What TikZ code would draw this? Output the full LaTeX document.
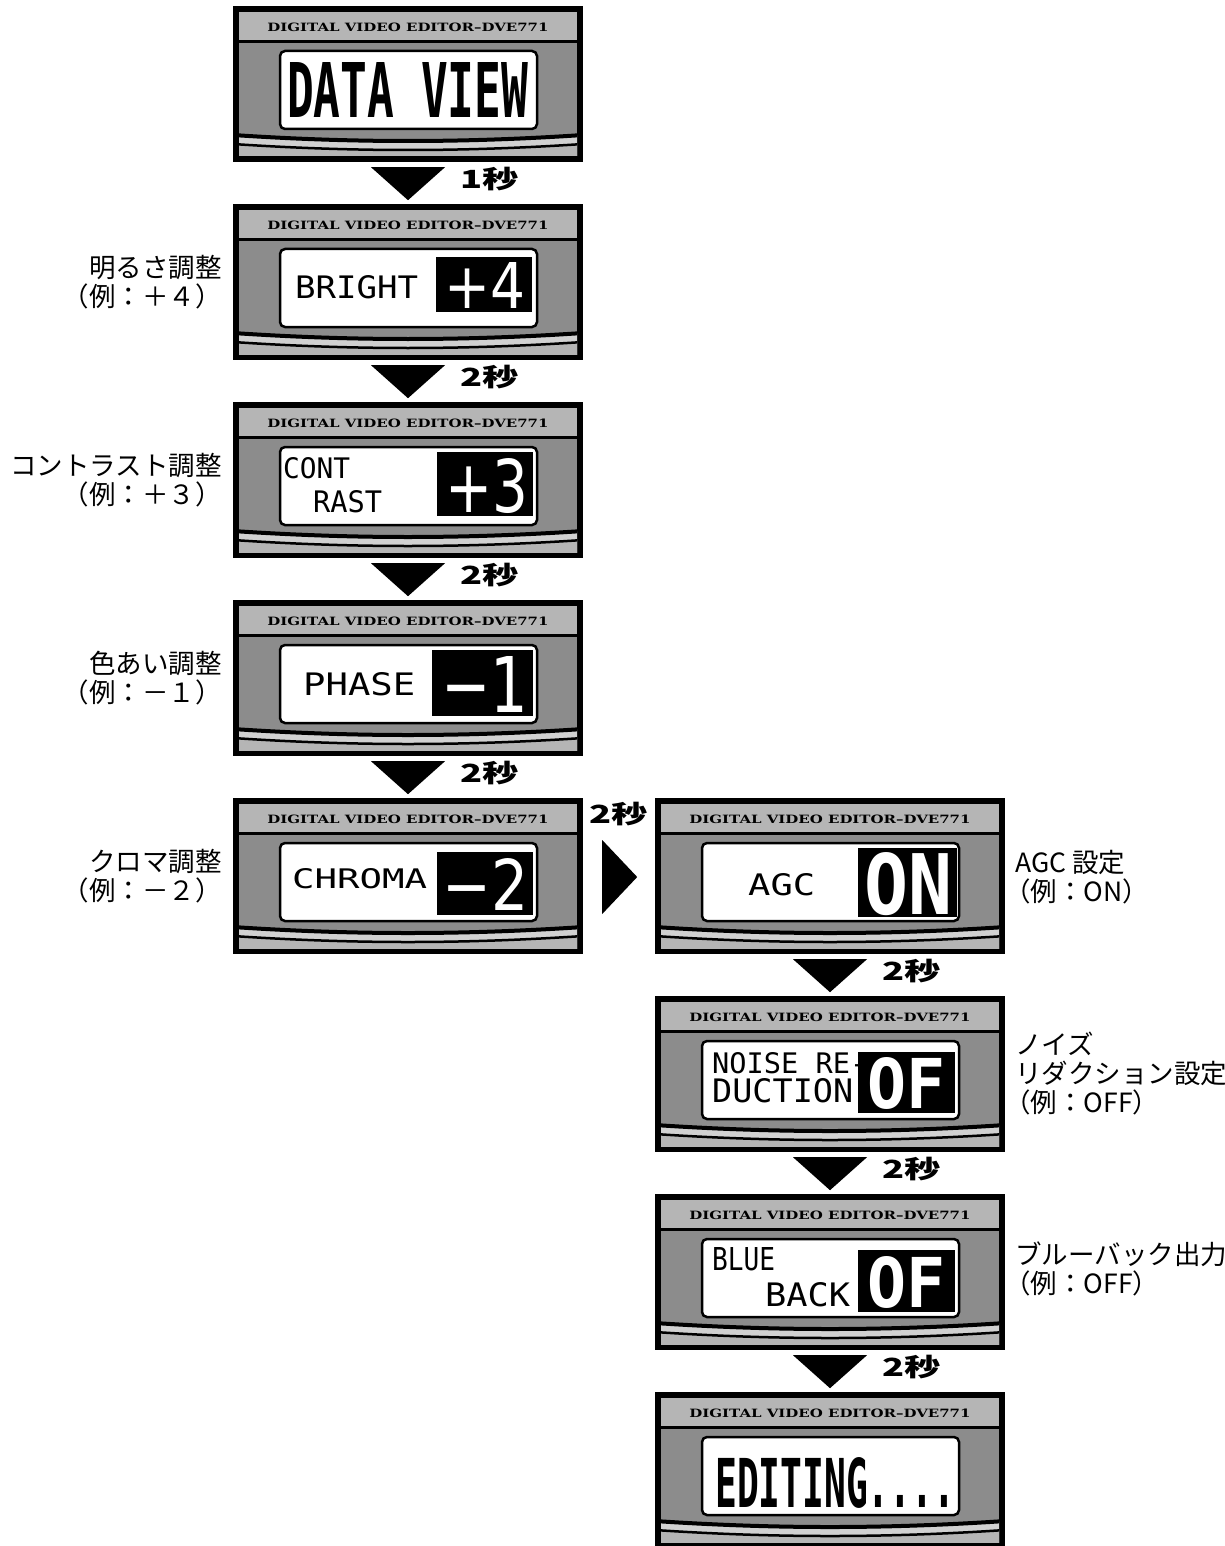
\documentclass[tikz,border=0pt]{standalone}
\usepackage{fontspec}
\usepackage{graphicx}
\usetikzlibrary{calc}
\newfontfamily\jp{Noto Sans CJK JP}
\newfontfamily\hdrfont{DejaVu Serif}
\newfontfamily\lcdfont{DejaVu Sans Mono}
\newfontfamily\digfont{DejaVu Sans}
\definecolor{hgray}{gray}{0.71}
\definecolor{mgray}{gray}{0.55}
\definecolor{sgray}{gray}{0.82}
\newcommand\fitbox[3]{\resizebox{#1pt}{#2pt}{#3}}
\tikzset{
  hdr/.style={font=\hdrfont\bfseries, inner sep=0},
  frame/.style={minimum width=350pt, minimum height=156pt, inner sep=0, draw=none},
  lcd/.style={font=\lcdfont, inner sep=0, anchor=base west},
  lcdb/.style={font=\lcdfont\bfseries, inner sep=0, anchor=base west},
  inv/.style={font=\digfont, text=white, inner sep=0, anchor=base west},
  invb/.style={font=\lcdfont\bfseries, text=white, inner sep=0, anchor=base west},
  lbl/.style={font=\jp\fontsize{26.5}{29}\selectfont, inner sep=0},
  sec/.style={font=\jp\bfseries\fontsize{25}{25}\selectfont, inner sep=0},
  tri/.style={fill=black},
}
\newcommand\panel[4]{%
 \begin{scope}[shift={(#2,#3)}]
  \fill[black] (0,0) rectangle (350,156);
  \fill[hgray] (6,6) rectangle (344,34);
  \fill[mgray] (6,37) rectangle (344,150);
  \begin{scope}
   \clip (6,37) rectangle (344,150);
   \fill[sgray] (0,129) .. controls (120,137) and (230,137) .. (350,129) -- (350,151) -- (0,151) -- cycle;
   \fill[hgray] (0,138) .. controls (120,146) and (230,146) .. (350,138) -- (350,151) -- (0,151) -- cycle;
   \draw[line width=4] (0,129) .. controls (120,137) and (230,137) .. (350,129);
   \draw[line width=2.5] (0,138) .. controls (120,146) and (230,146) .. (350,138);
  \end{scope}
  \node[hdr] (#1h) at (175,21) {\fitbox{281}{8.5}{DIGITAL VIDEO EDITOR–DVE771}};
  \draw[line width=2.5, fill=white, rounded corners=5] (47,45) rectangle (304,123);
  \node[frame] (#1) at (175,78) {};
  #4
 \end{scope}}
\newcommand\dnarrow[3]{%
  \fill[tri] ($(#1.south)+(-37,5)$) -- ($(#1.south)+(37,5)$) -- ($(#1.south)+(0,38)$) -- cycle;
  \node[sec, anchor=west] (#2) at ($(#1.south)+(52,16.5)$) {\scalebox{1.45}[1]{#3}};}
\begin{document}
\begin{tikzpicture}[x=1pt, y=-1pt]
\useasboundingbox (0,0) rectangle (1225,1546);
\fill[white] (0,0) rectangle (1225,1546);

\panel{p1}{233}{6}{%
  \node[lcdb] (t1) at (54,112) {\fitbox{241}{55}{DATA VIEW}};}
\panel{p2}{233}{204}{%
  \node[lcd] (t2) at (62,94) {\fitbox{123}{23}{BRIGHT}};
  \fill (203,53) rectangle (299,108);
  \node[inv] (v2) at (211,104) {\fitbox{81}{46}{+4}};}
\panel{p3}{233}{402}{%
  \node[lcd] (t3a) at (50,76) {\fitbox{67}{21}{CONT}};
  \node[lcd] (t3b) at (80,110) {\fitbox{69}{22}{RAST}};
  \fill (204,50) rectangle (300,114);
  \node[inv] (v3) at (212,110) {\fitbox{83}{54}{+3}};}
\panel{p4}{233}{600}{%
  \node[lcd] (t4) at (70,95) {\fitbox{112}{23}{PHASE}};
  \fill (199,50) rectangle (300,116);
  \node[inv] (v4) at (208,112) {\fitbox{87}{56}{−1}};}
\panel{p5}{233}{798}{%
  \node[lcd] (t5) at (59,90) {\fitbox{135}{20}{CHROMA}};
  \fill (204,54) rectangle (300,117);
  \node[inv] (v5) at (209,112) {\fitbox{86}{52}{−2}};}
\panel{q1}{655}{798}{%
  \node[lcd] (u1) at (93,97) {\fitbox{67}{22}{AGC}};
  \fill (203,50) rectangle (302,119);
  \node[invb] (w1) at (209,116) {\fitbox{88}{62}{ON}};}
\panel{q2}{655}{996}{%
  \node[lcd] (u2a) at (57,77) {\fitbox{155}{21}{NOISE RE-}};
  \node[lcd] (u2b) at (57,106) {\fitbox{141}{24}{DUCTION}};
  \fill (203,56) rectangle (300,117);
  \node[invb] (w2) at (212,112) {\fitbox{78}{51}{OF}};}
\panel{q3}{655}{1194}{%
  \node[lcd] (u3a) at (57,76) {\fitbox{63}{23}{BLUE}};
  \node[lcd] (u3b) at (110,112) {\fitbox{85}{24}{BACK}};
  \fill (203,56) rectangle (300,118);
  \node[invb] (w3) at (212,113) {\fitbox{78}{51}{OF}};}
\panel{q4}{655}{1392}{%
  \node[lcdb] (u4) at (60,115) {\fitbox{240}{50}{EDITING....}};}

% arrows
\dnarrow{p1}{s1}{1秒}
\dnarrow{p2}{s2}{2秒}
\dnarrow{p3}{s3}{2秒}
\dnarrow{p4}{s4}{2秒}
\dnarrow{q1}{s6}{2秒}
\dnarrow{q2}{s7}{2秒}
\dnarrow{q3}{s8}{2秒}
\fill[tri] ($(p5.east)+(19,-36)$) -- ($(p5.east)+(19,38)$) -- ($(p5.east)+(54,1)$) -- cycle;
\node[sec] (s5) at ($(p5.east)+(35.5,-62)$) {\scalebox{1.45}[1]{2秒}};

% labels
\node[lbl, anchor=east, align=right] (l2) at ($(p2.west)+(-11,0)$) {明るさ調整\\（例：＋４）};
\node[lbl, anchor=east, align=right] (l3) at ($(p3.west)+(-11,0)$) {コントラスト調整\\（例：＋３）};
\node[lbl, anchor=east, align=right] (l4) at ($(p4.west)+(-11,0)$) {色あい調整\\（例：－１）};
\node[lbl, anchor=east, align=right] (l5) at ($(p5.west)+(-11,0)$) {クロマ調整\\（例：－２）};
\node[lbl, anchor=west, align=left] (r1) at ($(q1.east)+(10,1)$) {AGC 設定\\\hspace*{-11pt}（例：ON）};
\node[lbl, anchor=west, align=left] (r2) at ($(q2.east)+(10,0)$) {ノイズ\\リダクション設定\\\hspace*{-11pt}（例：OFF）};
\node[lbl, anchor=west, align=left] (r3) at ($(q3.east)+(10,-3)$) {ブルーバック出力\\\hspace*{-11pt}（例：OFF）};
\end{tikzpicture}
\end{document}
